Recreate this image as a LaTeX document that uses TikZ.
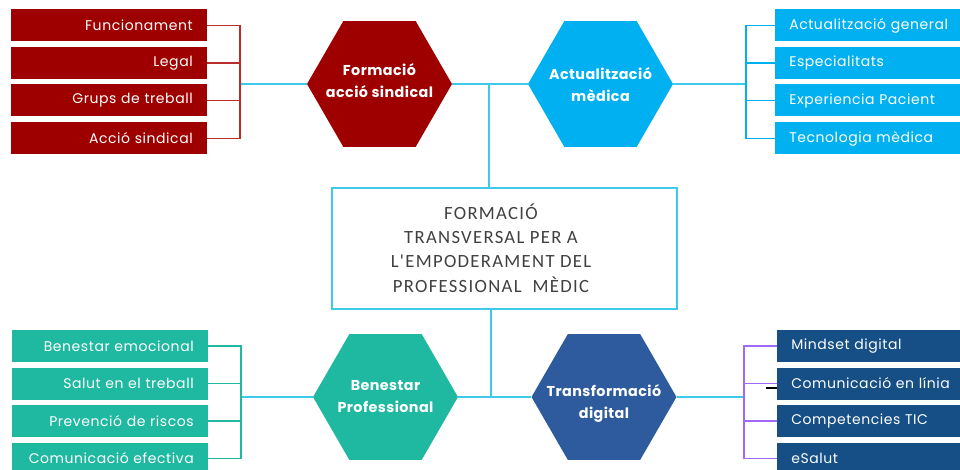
\documentclass[tikz,border=0pt]{standalone}
\usepackage{fontspec}
\setmainfont{Poppins}[LetterSpace=4]
\newfontfamily\hexfont[LetterSpace=3]{Poppins}
\newfontfamily\titlefont[LetterSpace=7,Ligatures=TeXOff]{Carlito}
\usetikzlibrary{shapes.geometric}

\definecolor{sindred}{RGB}{158,0,0}
\definecolor{sindline}{RGB}{185,45,45}
\definecolor{medblue}{RGB}{0,176,240}
\definecolor{benteal}{RGB}{31,184,160}
\definecolor{digblue}{RGB}{46,91,158}
\definecolor{digbox}{RGB}{22,79,134}
\definecolor{digline}{RGB}{160,105,250}
\definecolor{linkcyan}{RGB}{62,200,234}
\definecolor{titlegray}{RGB}{64,64,64}

\begin{document}
\begin{tikzpicture}[x=0.75pt,y=-0.75pt]
   \tikzset{hexa/.style={regular polygon, regular polygon sides=6, minimum size=108.75pt,
      inner sep=0pt}}
   \tikzset{hexlabel/.style={inner sep=0pt, align=center, text=white,
      font=\hexfont\bfseries\fontsize{10.75}{16.5}\selectfont}}
   \tikzset{leftbox/.style={rectangle, minimum height=24pt, inner ysep=0pt, inner xsep=10.5pt,
      text width=126pt, align=right, text=white, anchor=east, font=\fontsize{10.5}{12}\selectfont}}
   \tikzset{rightbox/.style={rectangle, minimum height=24pt, inner ysep=0pt, inner xsep=10.5pt,
      text width=130pt, align=left, text=white, anchor=west, font=\fontsize{10.5}{12}\selectfont}}
   \tikzset{link/.style={draw=linkcyan, line width=1.5pt}}
   \tikzset{bracket/.style={line width=1.1pt}}
   \useasboundingbox (0,0) rectangle (960,470);

   \node[draw=linkcyan, line width=1.5pt, minimum width=258.75pt, minimum height=90.75pt] (cbox) at (504.5,248.5) {};
   \node[text=titlegray, align=center, font=\titlefont\fontsize{14}{18.2}\selectfont] (ctitle) at (491,248)
      {FORMACIÓ\\TRANSVERSAL PER A\\L'EMPODERAMENT DEL\\PROFESSIONAL\ \ MÈDIC};

   \node[hexa, fill=sindred, label={[hexlabel, yshift=2.25pt]center:Formació\\acció sindical}] (hexA) at (379.5,84) {};
   \node[hexa, fill=medblue, label={[hexlabel, yshift=-0.75pt]center:Actualització\\mèdica}] (hexB) at (600.5,84) {};
   \node[hexa, fill=benteal, label={[hexlabel]center:Benestar\\Professional}] (hexC) at (385.5,397) {};
   \node[hexa, fill=digblue, label={[hexlabel, yshift=-5pt]center:Transformació\\digital}] (hexD) at (604,397) {};

   \coordinate (brA) at (240,84);
   \coordinate (brB) at (746,84);
   \coordinate (brC) at (241,397);
   \coordinate (brD) at (744,397);
   \coordinate (jtop) at (489,84);
   \coordinate (jbot) at (491,397);

   \node[leftbox, fill=sindred] (a1) at (207,25.5) {Funcionament};
   \node[leftbox, fill=sindred] (a2) at (207,63) {Legal};
   \node[leftbox, fill=sindred] (a3) at (207,100.5) {Grups de treball};
   \node[leftbox, fill=sindred] (a4) at (207,138.5) {Acció sindical};

   \node[rightbox, fill=medblue] (b1) at (775,25.5) {Actualització general};
   \node[rightbox, fill=medblue] (b2) at (775,63) {Especialitats};
   \node[rightbox, fill=medblue] (b3) at (775,100.5) {Experiencia Pacient};
   \node[rightbox, fill=medblue] (b4) at (775,138.5) {Tecnologia mèdica};

   \node[leftbox, fill=benteal] (c1) at (208,346) {Benestar emocional};
   \node[leftbox, fill=benteal] (c2) at (208,383.5) {Salut en el treball};
   \node[leftbox, fill=benteal] (c3) at (208,421) {Prevenció de riscos};
   \node[leftbox, fill=benteal] (c4) at (208,458.5) {Comunicació efectiva};

   \draw[black, line width=1.1pt] (766,388) -- (777,388);
   \node[rightbox, fill=digbox] (d1) at (777,346) {Mindset digital};
   \node[rightbox, fill=digbox] (d2) at (777,383.5) {Comunicació en línia};
   \node[rightbox, fill=digbox] (d3) at (777,421) {Competencies TIC};
   \node[rightbox, fill=digbox] (d4) at (777,458.5) {eSalut};

   \draw[link] (brA) -- (hexA.west);
   \draw[link] (hexA.east) -- (hexB.west);
   \draw[link] (hexB.east) -- (brB);
   \draw[link] (brC) -- (hexC.west);
   \draw[link] (hexC.east) -- (hexD.west);
   \draw[link] (hexD.east) -- (brD);
   \draw[link] (jtop) -- (jtop |- cbox.north);
   \draw[link] (jbot |- cbox.south) -- (jbot);

   \draw[bracket, sindline] (a1.east) -| (brA);
   \draw[bracket, sindline] (a2.east) -| (brA);
   \draw[bracket, sindline] (a3.east) -| (brA);
   \draw[bracket, sindline] (a4.east) -| (brA);
   \draw[bracket, medblue] (b1.west) -| (brB);
   \draw[bracket, medblue] (b2.west) -| (brB);
   \draw[bracket, medblue] (b3.west) -| (brB);
   \draw[bracket, medblue] (b4.west) -| (brB);
   \draw[bracket, benteal] (c1.east) -| (brC);
   \draw[bracket, benteal] (c2.east) -| (brC);
   \draw[bracket, benteal] (c3.east) -| (brC);
   \draw[bracket, benteal] (c4.east) -| (brC);
   \draw[bracket, digline] (d1.west) -| (brD);
   \draw[bracket, digline] (d2.west) -| (brD);
   \draw[bracket, digline] (d3.west) -| (brD);
   \draw[bracket, digline] (d4.west) -| (brD);
\end{tikzpicture}
\end{document}
